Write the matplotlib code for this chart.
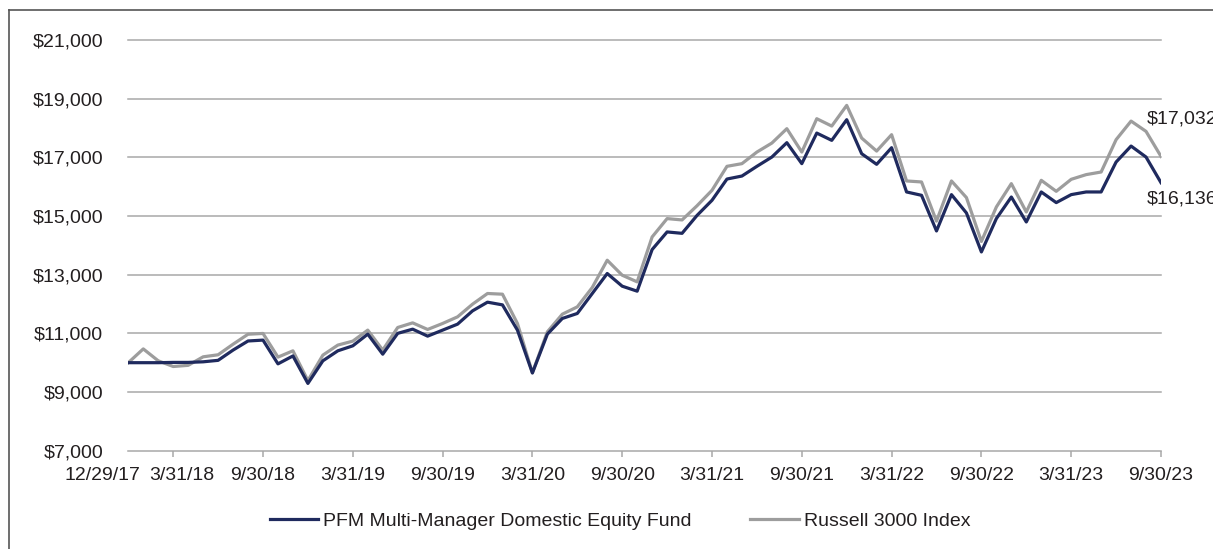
import matplotlib
matplotlib.use("Agg")
import matplotlib.pyplot as plt
from matplotlib.ticker import FuncFormatter
from matplotlib.lines import Line2D
from matplotlib.transforms import ScaledTranslation

# growth of $10,000, month ends 12/29/17 .. 9/30/23
fund = [10000, 10000, 10000, 10010, 10010, 10030, 10080, 10430, 10740, 10770,
        9960, 10230, 9293, 10064, 10405, 10575, 10973, 10290, 11000, 11143,
        10905, 11110, 11314, 11767, 12063, 11971, 11110, 9650, 10973, 11508,
        11678, 12359, 13040, 12608, 12438, 13857, 14457, 14410, 15020, 15536,
        16261, 16363, 16694, 17010, 17500, 16785, 17827, 17579, 18283, 17124,
        16762, 17329, 15820, 15706, 14491, 15729, 15104, 13776, 14912, 15648,
        14797, 15820, 15457, 15729, 15820, 15820, 16840, 17385, 17010, 16136]

russell = [10000, 10470, 10064, 9870, 9910, 10200, 10270, 10630, 10970, 10997,
           10190, 10405, 9390, 10258, 10600, 10735, 11110, 10430, 11200, 11358,
           11133, 11337, 11563, 11995, 12359, 12335, 11337, 9656, 11052, 11654,
           11903, 12564, 13493, 12982, 12755, 14286, 14912, 14866, 15350, 15877,
           16694, 16785, 17180, 17487, 17977, 17180, 18317, 18066, 18771, 17657,
           17214, 17773, 16195, 16161, 14826, 16195, 15628, 14133, 15308, 16104,
           15137, 16217, 15842, 16251, 16411, 16500, 17602, 18236, 17885, 17032]

tick_pos = [0, 3, 9, 15, 21, 27, 33, 39, 45, 51, 57, 63, 69]
tick_labels = ['12/29/17', '3/31/18', '9/30/18', '3/31/19', '9/30/19', '3/31/20',
               '9/30/20', '3/31/21', '9/30/21', '3/31/22', '9/30/22', '3/31/23', '9/30/23']
y_ticks = [7000, 9000, 11000, 13000, 15000, 17000, 19000, 21000]

navy = '#1f2a5e'
grey = '#9d9d9d'
txt = '#231f20'
gridc = '#a8a8a8'

plt.rcParams['font.family'] = ['Liberation Sans', 'DejaVu Sans']
plt.rcParams['font.size'] = 14

W, H = 1213, 549
fig = plt.figure(figsize=(W / 100, H / 100), dpi=100)
ax = fig.add_axes([128.3 / W, 1 - 450.7 / H, (1161 - 128.3) / W, (450.7 - 40) / H])

x = list(range(len(fund)))
ax.plot(x, russell, color=grey, lw=2.3, label='Russell 3000 Index', zorder=3)
ax.plot(x, fund, color=navy, lw=2.3, label='PFM Multi-Manager Domestic Equity Fund', zorder=4)

ax.set_xlim(0, len(fund) - 1)
ax.set_ylim(y_ticks[0], y_ticks[-1])
ax.set_yticks(y_ticks)
ax.yaxis.set_major_formatter(FuncFormatter(lambda v, p: f"${v:,.0f}"))
for g in y_ticks:
    ax.axhline(g, color=gridc, lw=1.1, clip_on=False, zorder=1)

ax.set_xticks(tick_pos)
ax.set_xticklabels(tick_labels)
for s in ax.spines.values():
    s.set_visible(False)
ax.tick_params(axis='y', length=0, pad=18, colors=txt, labelsize=14)
ax.tick_params(axis='x', length=4.5, width=1.1, color=gridc, pad=7, labelcolor=txt, labelsize=14)
ax.xaxis.get_major_ticks()[0].tick1line.set_visible(False)

# first two date labels are nudged apart so they don't collide
labs = ax.get_xticklabels()
labs[0].set_transform(labs[0].get_transform() + ScaledTranslation(-26 / 100, 0, fig.dpi_scale_trans))
labs[1].set_transform(labs[1].get_transform() + ScaledTranslation(9 / 100, 0, fig.dpi_scale_trans))

# end values
ax.annotate(f"${russell[-1]:,}", (x[-1], russell[-1]), xytext=(-10, 27), textcoords='offset points',
            ha='left', va='center', color=txt, fontsize=14, annotation_clip=False)
ax.annotate(f"${fund[-1]:,}", (x[-1], fund[-1]), xytext=(-10, -12), textcoords='offset points',
            ha='left', va='center', color=txt, fontsize=14, annotation_clip=False)

h, l = ax.get_legend_handles_labels()
fig.legend(h[::-1], l[::-1], loc='center', bbox_to_anchor=(620 / W, 1 - 521 / H), ncol=2,
           frameon=False, handlelength=2.5, handletextpad=0.25, columnspacing=3.0,
           fontsize=14, labelcolor=txt)

# outer frame (left and top edges)
fig.add_artist(Line2D([9 / W, 9 / W], [0, 1 - 10 / H], transform=fig.transFigure, color='#555555', lw=1.2))
fig.add_artist(Line2D([9 / W, 1], [1 - 10 / H, 1 - 10 / H], transform=fig.transFigure, color='#555555', lw=1.2))

fig.savefig('out.png', dpi=100)
